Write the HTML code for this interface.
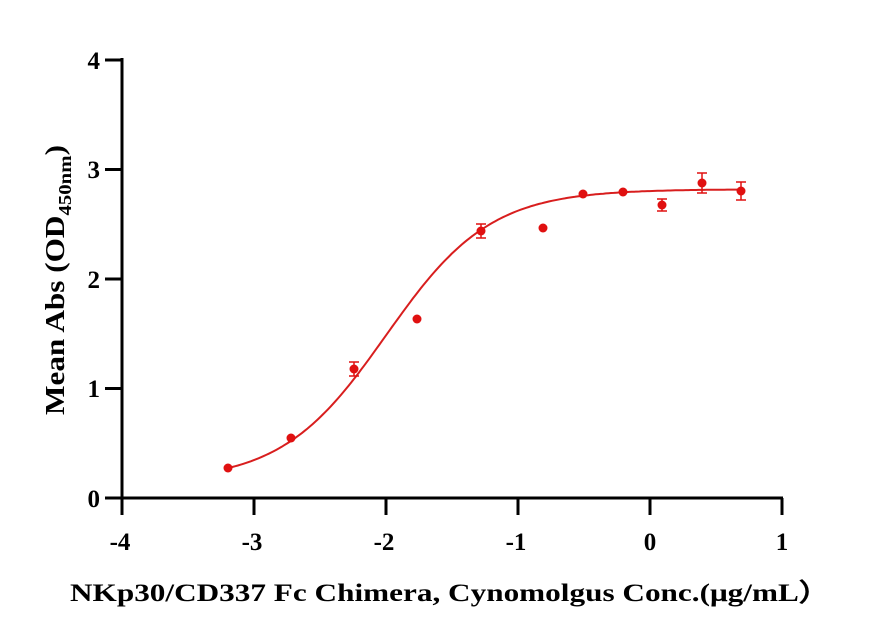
<!DOCTYPE html>
<html><head><style>body{margin:0;background:#fff}</style></head><body>
<svg id="s" width="873" height="637" xmlns="http://www.w3.org/2000/svg" font-family="Liberation Serif, serif" font-weight="bold">
<g stroke="#000" stroke-width="3" fill="none">
<line x1="122" y1="58" x2="122" y2="499"/>
<line x1="120" y1="498" x2="783" y2="498"/>
<line x1="105" y1="60" x2="122" y2="60"/>
<line x1="105" y1="169.5" x2="122" y2="169.5"/>
<line x1="105" y1="279" x2="122" y2="279"/>
<line x1="105" y1="388.5" x2="122" y2="388.5"/>
<line x1="105" y1="498" x2="122" y2="498"/>
<line x1="122" y1="498" x2="122" y2="515"/>
<line x1="254" y1="498" x2="254" y2="515"/>
<line x1="386" y1="498" x2="386" y2="515"/>
<line x1="518" y1="498" x2="518" y2="515"/>
<line x1="650" y1="498" x2="650" y2="515"/>
<line x1="782" y1="498" x2="782" y2="515"/>
</g>
<g font-size="25" text-anchor="end">
<text x="100" y="69">4</text><text x="100" y="178">3</text><text x="100" y="288">2</text><text x="100" y="397">1</text><text x="100" y="507">0</text>
</g>
<g font-size="25" text-anchor="middle">
<text x="120" y="550">-4</text><text x="252" y="550">-3</text><text x="384" y="550">-2</text><text x="516" y="550">-1</text><text x="650" y="550">0</text><text x="782" y="550">1</text>
</g>
<text x="70" y="601" font-size="25" textLength="760" lengthAdjust="spacingAndGlyphs">NKp30/CD337 Fc Chimera, Cynomolgus  Conc.(μg/mL）</text>
<text transform="translate(64,415) rotate(-90)" font-size="27" textLength="270" lengthAdjust="spacingAndGlyphs">Mean Abs (OD<tspan font-size="18" dy="7">450nm</tspan><tspan dy="-7">)</tspan></text>
<path id="c" fill="none" stroke="#d81e1e" stroke-width="2"/>
<g id="p" fill="#e01010" stroke="#e01010" stroke-width="1.5"></g>
</svg>
<script>
var X=v=>122+(v+4)*132,Y=v=>498-v*109.5;
var d="";for(var i=0;i<=200;i++){var x=-3.2+3.9*i/200;var y=0.15+2.67/(1+Math.pow(10,1.1*(-2.0-x)));d+=(i?"L":"M")+X(x).toFixed(1)+" "+Y(y).toFixed(1);}
document.getElementById("c").setAttribute("d",d);
var pts=[[228,468,0],[291,438,0],[354,369,7],[417,319,0],[481,231,7],[543,228,0],[583,194,0],[623,192,0],[662,205,6],[702,183,10],[741,191,9]];
var g=document.getElementById("p"),h="";
pts.forEach(p=>{h+='<circle cx="'+p[0]+'" cy="'+p[1]+'" r="4.5" stroke="none"/>';if(p[2]){h+='<path fill="none" d="M'+p[0]+' '+(p[1]-p[2])+'V'+(p[1]+p[2])+'M'+(p[0]-5)+' '+(p[1]-p[2])+'h10M'+(p[0]-5)+' '+(p[1]+p[2])+'h10"/>';}});
g.innerHTML=h;
</script>
</body></html>
